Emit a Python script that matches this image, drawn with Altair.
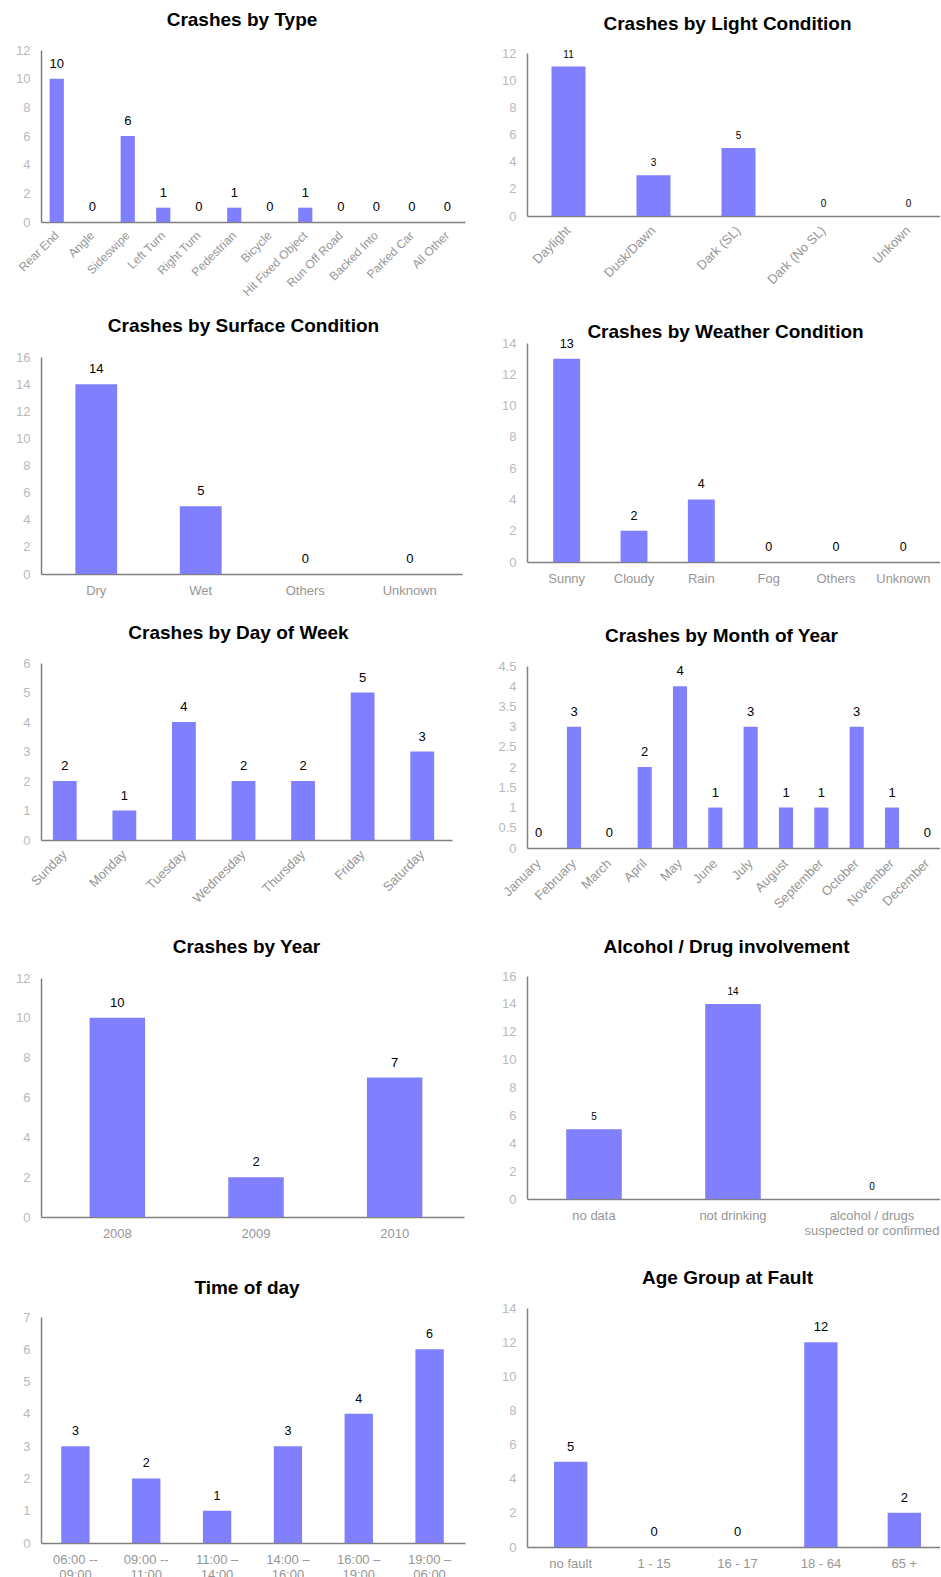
import altair as alt
import numpy as np
import pandas as pd

FONT = "Liberation Sans"
BAR_COLOR = "#8080ff"
AXIS_COLOR = "#808080"
XLABEL_COLOR = "#969696"
YLABEL_COLOR = "#b9b9b9"
BAR_GAP = 0.6  # inner band padding: bars fill ~40% of a category slot

# ---- data -------------------------------------------------------------
type_cats = ["Rear End", "Angle", "Sideswipe", "Left Turn", "Right Turn", "Pedestrian",
             "Bicycle", "Hit Fixed Object", "Run Off Road", "Backed Into", "Parked Car", "All Other"]
type_vals = [10, 0, 6, 1, 0, 1, 0, 1, 0, 0, 0, 0]

light_cats = ["Daylight", "Dusk/Dawn", "Dark (SL)", "Dark (No SL)", "Unkown"]
light_vals = [11, 3, 5, 0, 0]

surface_cats = ["Dry", "Wet", "Others", "Unknown"]
surface_vals = [14, 5, 0, 0]

weather_cats = ["Sunny", "Cloudy", "Rain", "Fog", "Others", "Unknown"]
weather_vals = [13, 2, 4, 0, 0, 0]

day_cats = ["Sunday", "Monday", "Tuesday", "Wednesday", "Thursday", "Friday", "Saturday"]
day_vals = [2, 1, 4, 2, 2, 5, 3]

month_cats = ["January", "February", "March", "April", "May", "June", "July",
              "August", "September", "October", "November", "December"]
month_vals = [0, 3, 0, 2, 4, 1, 3, 1, 1, 3, 1, 0]

year_cats = ["2008", "2009", "2010"]
year_vals = [10, 2, 7]

alcohol_cats = ["no data", "not drinking", "alcohol / drugs\nsuspected or confirmed"]
alcohol_vals = [5, 14, 0]

time_cats = ["06:00 --\n09:00", "09:00 --\n11:00", "11:00 \u2013\n14:00",
             "14:00 \u2013\n16:00", "16:00 \u2013\n19:00", "19:00 \u2013\n06:00"]
time_vals = [3, 2, 1, 3, 4, 6]

age_cats = ["no fault", "1 - 15", "16 - 17", "18 - 64", "65 +"]
age_vals = [5, 0, 0, 12, 2]


# ---- helpers ----------------------------------------------------------
def spacer(w=1, h=1):
    """Invisible view used to push panels into place."""
    return (
        alt.Chart(pd.DataFrame({"s": [0]}))
        .mark_point(opacity=0, size=1, strokeWidth=0)
        .encode(x=alt.value(3), y=alt.value(3))
        .properties(width=w, height=h)
    )


def band_scale(n, x0, width, slot_x0, slot_width):
    """Band scale over [x0, x0+width] whose category slots span
    [slot_x0, slot_x0+slot_width] in page space."""
    step = slot_width / n
    outer = max(0.0, (width / step - n + BAR_GAP) / 2)
    start = slot_x0 + BAR_GAP * step / 2
    spare = width - step * (n - BAR_GAP)
    align = min(1.0, max(0.0, (start - x0) / spare)) if spare > 0 else 0.5
    return alt.Scale(paddingInner=BAR_GAP, paddingOuter=round(outer, 4), align=round(align, 4))


def panel(title, cats, vals, ymax, ystep, x0, width, slots, height, top=0, angle=0,
          xsize=13, vsize=13, vdy=-8, tdx=-10, tdy=0, lpad=10, multiline=False):
    df = pd.DataFrame({"cat": cats, "n": vals})
    ticks = [float(v) for v in np.arange(0, ymax + 1e-9, ystep)]

    xaxis = dict(
        title=None, labelAngle=angle, labelFontSize=xsize, labelColor=XLABEL_COLOR,
        labelFont=FONT, ticks=False, tickSize=0, labelPadding=lpad,
        domainColor=AXIS_COLOR, domainWidth=1.5, labelOverlap=False, labelLimit=300,
    )
    if angle:
        xaxis.update(labelAlign="right", labelBaseline="middle")
    if multiline:
        xaxis.update(labelExpr="split(datum.label, '\\n')", labelLineHeight=15)

    x = alt.X("cat:N", sort=cats,
              scale=band_scale(len(cats), x0, width, *slots),
              axis=alt.Axis(**xaxis))
    y = alt.Y("n:Q", scale=alt.Scale(domain=[0, ymax], nice=False, range=[height, top]),
              axis=alt.Axis(title=None, values=ticks, format="~g", ticks=False, tickSize=0,
                            labelPadding=11, labelFontSize=13, labelFont=FONT,
                            labelColor=YLABEL_COLOR, domainColor=AXIS_COLOR,
                            domainWidth=1.5, grid=False))
    base = alt.Chart(df).encode(x=x, y=y)
    bars = base.mark_bar(color=BAR_COLOR)
    labels = base.mark_text(baseline="bottom", dy=vdy, fontSize=vsize, font=FONT,
                            color="black").encode(text="n:Q")
    return alt.layer(bars, labels).properties(
        width=width, height=height,
        title=alt.TitleParams(text=title, font=FONT, fontSize=19, fontWeight="bold",
                              color="black", anchor="middle", frame="group",
                              offset=14, dx=tdx, dy=tdy),
    )


# ---- panels -----------------------------------------------------------
L, R = 41, 527  # x of the left / right column plot areas
RW = 413        # right column plot width
p_type = panel("Crashes by Type", type_cats, type_vals, 12, 2, L, 424, (39, 426), 172,
               angle=-45, xsize=12, tdx=-11, tdy=0, lpad=11)
p_light = panel("Crashes by Light Condition", light_cats, light_vals, 12, 2, R, RW, (526, 425),
                166, top=3, angle=-45, vsize=10, vdy=-7, tdx=-6, tdy=1, lpad=12)
p_surface = panel("Crashes by Surface Condition", surface_cats, surface_vals, 16, 2, L, 421,
                  (44, 418), 231, top=14, tdx=-8, tdy=7)
p_weather = panel("Crashes by Weather Condition", weather_cats, weather_vals, 14, 2, R, RW,
                  (533, 404), 219, vsize=12.5, tdx=-8, tdy=19)
p_day = panel("Crashes by Day of Week", day_cats, day_vals, 6, 1, L, 411, (35, 417), 177,
              angle=-45, tdx=-8, lpad=12)
p_month = panel("Crashes by Month of Year", month_cats, month_vals, 4.5, 0.5, R, RW,
                (521, 424), 185, top=3, angle=-45, tdx=-12, lpad=13)
p_year = panel("Crashes by Year", year_cats, year_vals, 12, 2, L, 423, (48, 416), 241, top=2,
               tdx=-6, tdy=-1)
p_alcohol = panel("Alcohol / Drug involvement", alcohol_cats, alcohol_vals, 16, 2, R, RW,
                  (524.5, 417), 223, vsize=10, vdy=-7, tdx=-7, tdy=1, multiline=True)
p_time = panel("Time of day", time_cats, time_vals, 7, 1, L, 424, (40, 425), 235, top=9,
               vsize=12.5, tdx=-6, tdy=4, lpad=10, multiline=True)
p_age = panel("Age Group at Fault", age_cats, age_vals, 14, 2, R, RW, (529, 417), 239, tdx=-6)

# Four-column grid: [left margin, left panel, gutter, right panel].
# Spacer rows set the vertical gap between panel rows.
G = R - L - 424
rows = [
    (spacer(L, 1), spacer(1, 50), spacer(G, 1), spacer(1, 1)),
    (spacer(L, 1), p_type, spacer(G, 1), p_light),
    (spacer(L, 1), spacer(1, 121), spacer(G, 1), spacer(1, 1)),
    (spacer(L, 1), p_surface, spacer(G, 1), p_weather),
    (spacer(L, 1), spacer(1, 89), spacer(G, 1), spacer(1, 1)),
    (spacer(L, 1), p_day, spacer(G, 1), p_month),
    (spacer(L, 1), spacer(1, 128), spacer(G, 1), spacer(1, 1)),
    (spacer(L, 1), p_year, spacer(G, 1), p_alcohol),
    (spacer(L, 1), spacer(1, 91), spacer(G, 1), spacer(1, 1)),
    (spacer(L, 1), p_time, spacer(G, 1), p_age),
]
items = [c for row in rows for c in row]

chart = (
    alt.concat(*items, columns=4, spacing=0, bounds="flush", align="each")
    .properties(padding=0, background="white")
    .configure(font=FONT)
    .configure_view(strokeWidth=0, stroke="transparent")
)

chart.save("out.html", embed_options={"renderer": "svg", "actions": False})
